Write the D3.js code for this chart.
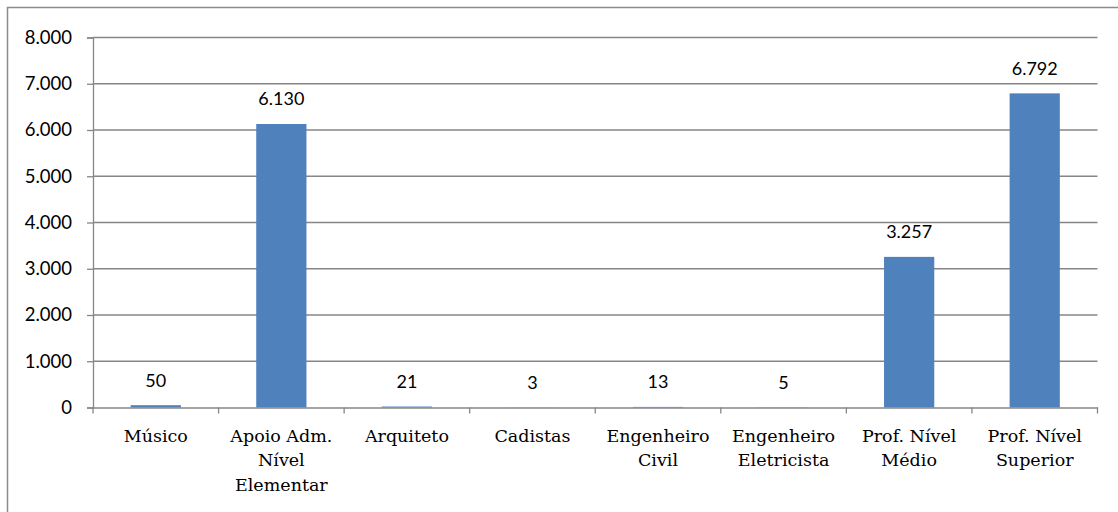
<!DOCTYPE html>
<html>
<head>
<meta charset="utf-8">
<script src="https://cdn.jsdelivr.net/npm/d3@7"></script>
<style>
  body { margin: 0; background: #fff; }
  svg { display: block; }
</style>
</head>
<body>
<div id="chart"></div>
<script>
// data
var categories = ['Músico', 'Apoio Adm. Nível Elementar', 'Arquiteto', 'Cadistas',
    'Engenheiro Civil', 'Engenheiro Eletricista', 'Prof. Nível Médio', 'Prof. Nível Superior'];
var categoryLines = [['Músico'], ['Apoio Adm.', 'Nível', 'Elementar'], ['Arquiteto'], ['Cadistas'],
    ['Engenheiro', 'Civil'], ['Engenheiro', 'Eletricista'], ['Prof. Nível', 'Médio'], ['Prof. Nível', 'Superior']];
var values = [50, 6130, 21, 3, 13, 5, 3257, 6792];
var yTicks = [0, 1000, 2000, 3000, 4000, 5000, 6000, 7000, 8000];

var width = 1118, height = 512;
var plotLeft = 93, plotRight = 1097.5, plotTop = 37.5, plotBottom = 407.5;

var fmt = d => d3.format(',')(d).replace(/,/g, '.');

var svg = d3.select('#chart').append('svg')
    .attr('width', width)
    .attr('height', height);

// outer chart frame (right / bottom run past the picture)
svg.append('rect')
    .attr('x', 7.5).attr('y', 7.5)
    .attr('width', 1130).attr('height', 530)
    .attr('fill', 'none')
    .attr('stroke', '#8c8c8c')
    .attr('stroke-width', 1.5);

var x = d3.scaleBand().domain(categories).range([plotLeft, plotRight]).paddingInner(0).paddingOuter(0);
var y = d3.scaleLinear().domain([0, 8000]).range([plotBottom, plotTop]);

// gridlines
svg.append('g').selectAll('line')
    .data(yTicks.filter(d => d > 0))
    .enter().append('line')
    .attr('x1', plotLeft).attr('x2', plotRight)
    .attr('y1', d => y(d)).attr('y2', d => y(d))
    .attr('stroke', '#868686').attr('stroke-width', 1.3);

// y axis
var yAxis = svg.append('g')
    .attr('transform', `translate(${plotLeft},0)`)
    .call(d3.axisLeft(y).tickValues(yTicks).tickFormat(fmt).tickSize(6).tickPadding(15));
yAxis.select('.domain').attr('stroke', '#868686').attr('stroke-width', 1.3);
yAxis.selectAll('.tick line').attr('stroke', '#868686').attr('stroke-width', 1.3);
yAxis.selectAll('.tick text')
    .attr('font-family', 'Lato, sans-serif')
    .attr('font-size', 18.5)
    .attr('fill', '#000');

// bars
var barW = x.bandwidth() * 0.4;
svg.append('g').selectAll('rect')
    .data(values)
    .enter().append('rect')
    .attr('x', (d, i) => x(categories[i]) + (x.bandwidth() - barW) / 2)
    .attr('y', d => y(d))
    .attr('width', barW)
    .attr('height', d => plotBottom - y(d))
    .attr('fill', '#4f81bd');

// x axis
var xAxis = svg.append('g')
    .attr('transform', `translate(0,${plotBottom})`)
    .call(d3.axisBottom(x).tickSize(0).tickFormat(''));
xAxis.select('.domain').attr('stroke', '#868686').attr('stroke-width', 1.3);
svg.append('g').selectAll('line')
    .data(categories.concat(['end']))
    .enter().append('line')
    .attr('x1', (d, i) => plotLeft + i * x.bandwidth())
    .attr('x2', (d, i) => plotLeft + i * x.bandwidth())
    .attr('y1', plotBottom).attr('y2', plotBottom + 6)
    .attr('stroke', '#868686').attr('stroke-width', 1.3);

// category labels
var labels = svg.append('g').selectAll('text')
    .data(categoryLines)
    .enter().append('text')
    .attr('text-anchor', 'middle')
    .attr('font-family', '"DejaVu Serif", serif')
    .attr('font-size', 17.5)
    .attr('fill', '#000');
labels.each(function (lines, i) {
    var t = d3.select(this);
    lines.forEach((l, j) => {
        t.append('tspan')
            .attr('x', x(categories[i]) + x.bandwidth() / 2)
            .attr('y', 441.5 + j * 24.5)
            .text(l);
    });
});

// value labels
svg.append('g').selectAll('text')
    .data(values)
    .enter().append('text')
    .attr('x', (d, i) => x(categories[i]) + x.bandwidth() / 2)
    .attr('y', d => y(d) - 18.5)
    .attr('text-anchor', 'middle')
    .attr('font-family', 'Lato, sans-serif')
    .attr('font-size', 18)
    .attr('fill', '#000')
    .text(fmt);
</script>
</body>
</html>
